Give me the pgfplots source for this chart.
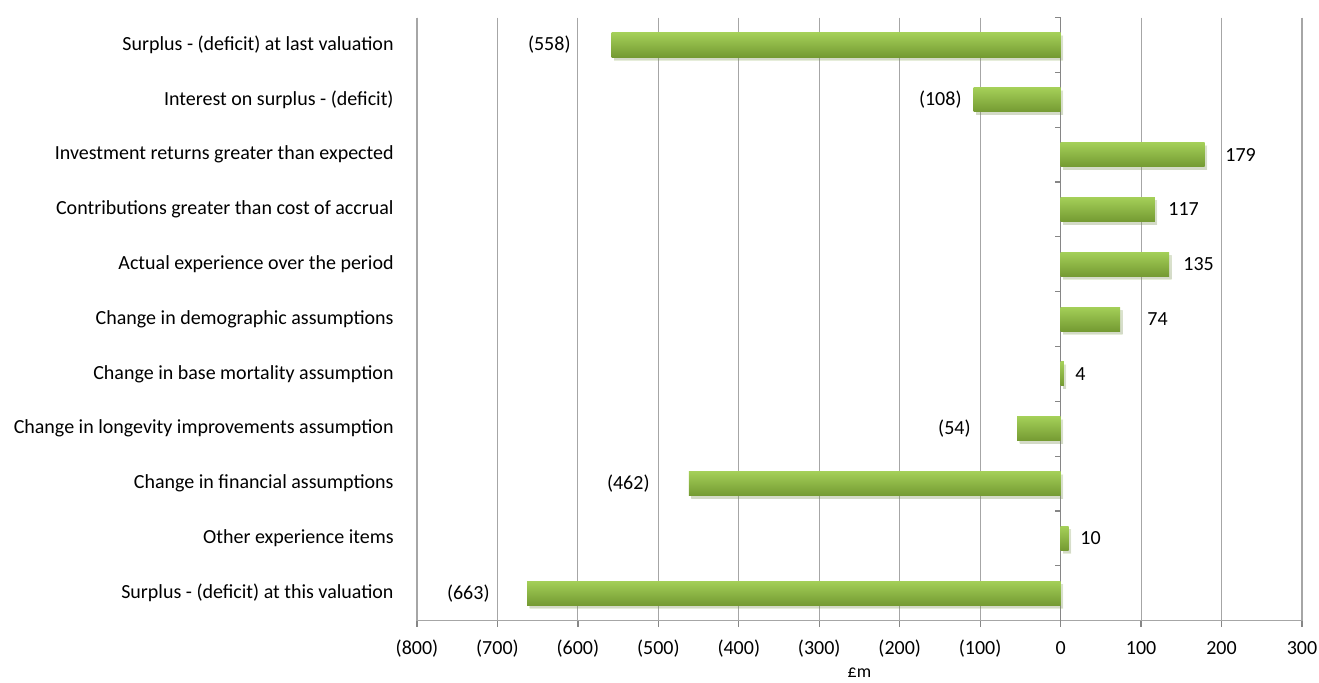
\documentclass[border=0pt]{standalone}
\usepackage{fontspec}
\setmainfont{Carlito}
\usepackage{pgfplots}
\pgfplotsset{compat=1.18}
\usetikzlibrary{shadows}
\definecolor{gridgray}{RGB}{166,166,166}
\definecolor{axisgray}{RGB}{134,134,134}
\definecolor{bartop}{RGB}{164,207,88}
\definecolor{barbot}{RGB}{116,154,50}
\pgfplotsset{mybar/.style={xbar, bar width=0.44, bar shift=0pt, draw=none,
  top color=bartop, bottom color=barbot,
  drop shadow={shadow xshift=1.2pt, shadow yshift=-1.5pt, opacity=0.18}}}
\begin{document}
\begin{tikzpicture}
\path[use as bounding box] (-208.5pt,-30.75pt) rectangle (451pt,310.3pt);
\begin{axis}[
  at={(0,0)}, anchor=south west, scale only axis,
  width=442.5pt, height=301.5pt,
  xmin=-800, xmax=300, ymin=-0.5, ymax=10.5, y dir=reverse,
  axis x line*=bottom, axis y line*=left,
  axis line style={draw=gridgray, line width=0.6pt},
  xtick={-800,-700,...,300},
  xticklabels={(800),(700),(600),(500),(400),(300),(200),(100),0,100,200,300},
  xmajorgrids, grid style={draw=gridgray, line width=0.55pt},
  x tick style={draw=axisgray, line width=0.6pt},
  tick align=outside, major tick length=3pt,
  ytick={0,...,10},
  yticklabels={Surplus - (deficit) at last valuation,
    Interest on surplus - (deficit),
    Investment returns greater than expected,
    Contributions greater than cost of accrual,
    Actual experience over the period,
    Change in demographic assumptions,
    Change in base mortality assumption,
    Change in longevity improvements assumption,
    Change in financial assumptions,
    Other experience items,
    Surplus - (deficit) at this valuation},
  y tick style={draw=none},
  yticklabel style={anchor=east, inner sep=0pt, xshift=-8.5pt},
  xticklabel style={anchor=base, inner sep=0pt, yshift=-14pt},
  xlabel={£m},
  x label style={at={(axis description cs:0.5,0)}, anchor=center, yshift=-26pt,
    font=\fontsize{9}{11}\selectfont},
  clip=false,
]
\draw[axisgray, line width=0.8pt] (axis cs:0,-0.5) -- (axis cs:0,10.5);
\pgfplotsinvokeforeach{0,...,10}{
  \draw[axisgray, line width=0.6pt] (axis cs:0,#1-0.5) -- ++(-3pt,0pt);
}
\addplot[mybar] coordinates {(-558,0)};
\addplot[mybar] coordinates {(-108,1)};
\addplot[mybar] coordinates {(179,2)};
\addplot[mybar] coordinates {(117,3)};
\addplot[mybar] coordinates {(135,4)};
\addplot[mybar] coordinates {(74,5)};
\addplot[mybar] coordinates {(4,6)};
\addplot[mybar] coordinates {(-54,7)};
\addplot[mybar] coordinates {(-462,8)};
\addplot[mybar] coordinates {(10,9)};
\addplot[mybar] coordinates {(-663,10)};
\addplot[only marks, mark=none, nodes near coords, point meta=explicit symbolic,
  nodes near coords style={anchor=east, inner sep=0pt, text=black}]
  table[x=x, y=y, meta=lab] {
x y lab
-608.6 0 (558)
-122.6 1 (108)
-111.4 7 (54)
-510.4 8 (462)
-709.3 10 (663)
};
\addplot[only marks, mark=none, nodes near coords, point meta=explicit symbolic,
  nodes near coords style={anchor=west, inner sep=0pt, text=black}]
  table[x=x, y=y, meta=lab] {
x y lab
204.3 2 179
133.5 3 117
152.1 4 135
107.4 5 74
17.9 6 4
24.1 9 10
};
\end{axis}
\end{tikzpicture}
\end{document}
